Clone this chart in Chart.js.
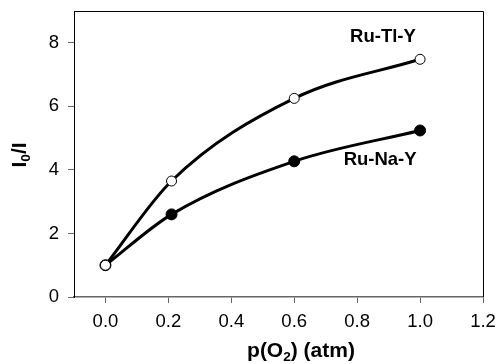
<!DOCTYPE html>
<html>
<head>
<meta charset="utf-8">
<script src="https://cdn.jsdelivr.net/npm/chart.js@4.4.1/dist/chart.umd.min.js"></script>
<style>
  html, body { margin: 0; padding: 0; background: #fff; }
  #wrap { width: 497px; height: 364px; }
</style>
</head>
<body>
<div id="wrap"><canvas id="chart" width="497" height="364"></canvas></div>
<script>
// data
const pO2 = [0.0, 0.21, 0.6, 1.0];
const tlValues = [1.0, 3.65, 6.25, 7.48];
const naValues = [1.0, 2.6, 4.27, 5.24];
const xTicks = [0.0, 0.2, 0.4, 0.6, 0.8, 1.0, 1.2];
const yTicks = [0, 2, 4, 6, 8];

const FONT = '"Liberation Sans", Arial, sans-serif';

// draws text where some pieces are subscripts
function drawParts(ctx, parts, x, y, size) {
    let total = 0;
    parts.forEach(p => {
        ctx.font = 'bold ' + (p[1] ? size * 0.65 : size) + 'px ' + FONT;
        total += ctx.measureText(p[0]).width;
    });
    let cx = x - total / 2;
    parts.forEach(p => {
        ctx.font = 'bold ' + (p[1] ? size * 0.65 : size) + 'px ' + FONT;
        ctx.fillText(p[0], cx, p[1] ? y + size * 0.3 : y);
        cx += ctx.measureText(p[0]).width;
    });
}

const extras = {
    id: 'extras',
    afterDraw(chart) {
        const ctx = chart.ctx;
        const a = chart.chartArea;
        const x = chart.scales.x, y = chart.scales.y;
        ctx.save();
        // top and right frame
        ctx.strokeStyle = '#000';
        ctx.lineWidth = 1;
        ctx.beginPath();
        ctx.moveTo(a.left, a.top + 0.5);
        ctx.lineTo(a.right + 0.5, a.top + 0.5);
        ctx.lineTo(a.right + 0.5, a.bottom);
        ctx.stroke();

        ctx.fillStyle = '#000';
        ctx.textBaseline = 'middle';
        // series labels
        ctx.font = 'bold 18.5px ' + FONT;
        ctx.textAlign = 'center';
        ctx.fillText('Ru-Tl-Y', x.getPixelForValue(0.882), y.getPixelForValue(8.18));
        ctx.fillText('Ru-Na-Y', x.getPixelForValue(0.873), y.getPixelForValue(4.31));
        ctx.textAlign = 'left';

        // x title
        drawParts(ctx, [['p(O', false], ['2', true], [') (atm)', false]], 301, 351, 21);

        // y title
        ctx.translate(20, 155);
        ctx.rotate(-Math.PI / 2);
        drawParts(ctx, [['I', false], ['0', true], ['/I', false]], 0, 0, 21);
        ctx.restore();
    }
};

new Chart(document.getElementById('chart'), {
    type: 'line',
    data: {
        datasets: [
            {
                label: 'Ru-Tl-Y',
                data: pO2.map((v, i) => ({ x: v, y: tlValues[i] })),
                borderColor: '#000',
                borderWidth: 3,
                cubicInterpolationMode: 'monotone',
                pointRadius: 5,
                pointBackgroundColor: '#fff',
                pointBorderColor: '#000',
                pointBorderWidth: 1
            },
            {
                label: 'Ru-Na-Y',
                data: pO2.map((v, i) => ({ x: v, y: naValues[i] })),
                borderColor: '#000',
                borderWidth: 3,
                cubicInterpolationMode: 'monotone',
                pointRadius: 5.5,
                pointBackgroundColor: '#000',
                pointBorderColor: '#000',
                pointBorderWidth: 1
            }
        ]
    },
    options: {
        responsive: false,
        animation: false,
        layout: { padding: { top: 11, right: 14, left: 0, bottom: 0 } },
        plugins: { legend: { display: false }, tooltip: { enabled: false } },
        scales: {
            x: {
                type: 'linear',
                min: -0.1,
                max: 1.2,
                afterBuildTicks: axis => { axis.ticks = xTicks.map(v => ({ value: v })); },
                afterFit: axis => { axis.height = 67; axis.paddingLeft = 0; axis.paddingRight = 0; },
                ticks: {
                    color: '#000',
                    font: { family: FONT, size: 18.5 },
                    padding: 8,
                    maxRotation: 0,
                    callback: v => v.toFixed(1)
                },
                grid: { drawOnChartArea: false, tickLength: 6, color: '#666' },
                border: { color: '#666', width: 1.5 }
            },
            y: {
                min: 0,
                max: 9,
                afterBuildTicks: axis => { axis.ticks = yTicks.map(v => ({ value: v })); },
                afterFit: axis => { axis.width = 74; axis.paddingTop = 0; axis.paddingBottom = 0; },
                ticks: {
                    color: '#000',
                    font: { family: FONT, size: 18.5 },
                    padding: 9
                },
                grid: { drawOnChartArea: false, tickLength: 6, color: '#666' },
                border: { color: '#000', width: 1 }
            }
        }
    },
    plugins: [extras]
});
</script>
</body>
</html>
